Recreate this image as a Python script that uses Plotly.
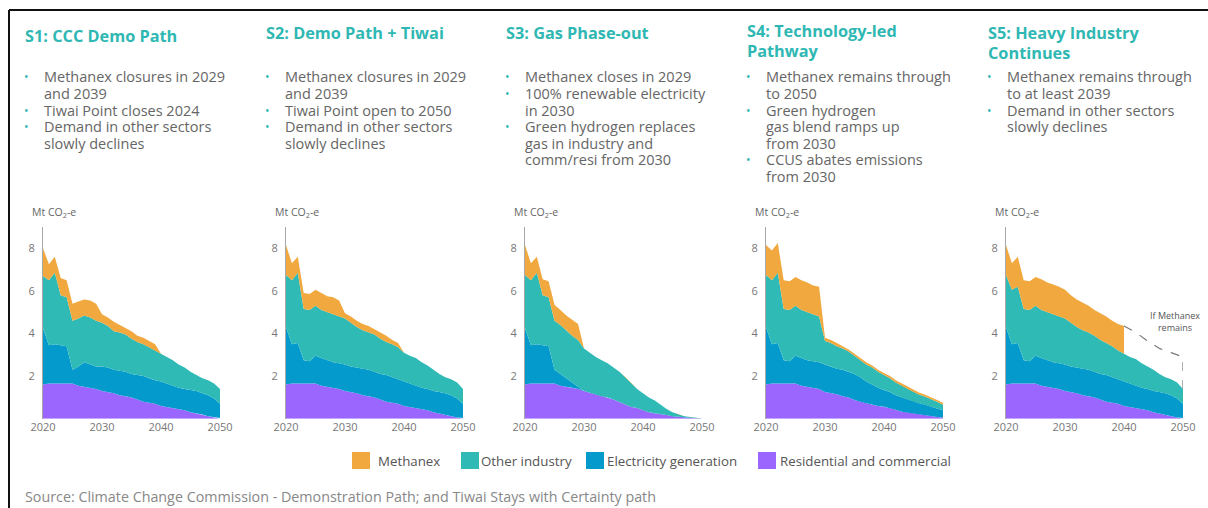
import numpy as np
import plotly.graph_objects as go

# ---------------- data ----------------
YEARS = list(range(2020, 2051))
SERIES = ["Residential and commercial", "Electricity generation", "Other industry", "Methanex"]
LEGEND_ORDER = ["Methanex", "Other industry", "Electricity generation", "Residential and commercial"]
X_TICKS = [2020, 2030, 2040, 2050]
Y_TICKS = [2, 4, 6, 8]

S1_RES = [1.6, 1.65, 1.65, 1.65, 1.65, 1.65, 1.55, 1.5, 1.45, 1.4, 1.3, 1.25, 1.2, 1.1, 1.05, 1.0,
          0.9, 0.8, 0.75, 0.7, 0.6, 0.55, 0.5, 0.45, 0.4, 0.3, 0.25, 0.2, 0.12, 0.06, 0.03]
S1_ELEC = [2.65, 1.8, 1.85, 1.8, 1.75, 0.65, 0.9, 1.15, 1.1, 1.05, 1.15, 1.15, 1.1, 1.15, 1.15, 1.1,
           1.15, 1.2, 1.15, 1.1, 1.15, 1.1, 1.05, 1.0, 1.0, 1.05, 1.05, 1.0, 0.98, 0.89, 0.67]
S1_OTHER = [2.45, 3.05, 3.35, 2.35, 2.3, 2.3, 2.25, 2.2, 2.2, 2.15, 2.05, 1.95, 1.8, 1.8, 1.75, 1.65,
            1.55, 1.5, 1.45, 1.4, 1.3, 1.25, 1.2, 1.1, 1.0, 0.85, 0.75, 0.7, 0.7, 0.7, 0.7]
S1_METH = [1.3, 0.75, 0.75, 0.8, 0.8, 0.8, 0.8, 0.75, 0.8, 0.8, 0.4, 0.4, 0.45, 0.35, 0.3, 0.35,
           0.3, 0.3, 0.3, 0.3, 0, 0, 0, 0, 0, 0, 0, 0, 0, 0, 0]

S2_RES = [1.6, 1.65, 1.65, 1.65, 1.65, 1.65, 1.55, 1.5, 1.45, 1.4, 1.3, 1.25, 1.2, 1.1, 1.05, 1.0,
          0.9, 0.8, 0.75, 0.7, 0.6, 0.55, 0.5, 0.45, 0.4, 0.3, 0.25, 0.2, 0.12, 0.06, 0.03]
S2_ELEC = [2.7, 1.85, 1.9, 1.1, 1.05, 1.3, 1.3, 1.25, 1.2, 1.2, 1.25, 1.2, 1.2, 1.25, 1.25, 1.2,
           1.2, 1.25, 1.2, 1.15, 1.15, 1.1, 1.05, 1.0, 1.0, 1.0, 1.0, 1.0, 0.98, 0.89, 0.67]
S2_OTHER = [2.45, 3.0, 3.3, 2.4, 2.4, 2.35, 2.25, 2.25, 2.25, 2.2, 2.15, 2.05, 1.9, 1.8, 1.75, 1.75,
            1.65, 1.55, 1.55, 1.5, 1.35, 1.3, 1.3, 1.2, 1.1, 1.0, 0.85, 0.75, 0.75, 0.75, 0.7]
S2_METH = [1.4, 0.8, 0.75, 0.75, 0.75, 0.75, 0.8, 0.75, 0.8, 0.75, 0.25, 0.3, 0.3, 0.3, 0.3, 0.25,
           0.3, 0.3, 0.2, 0.2, 0, 0, 0, 0, 0, 0, 0, 0, 0, 0, 0]

S3_RES = [1.6, 1.65, 1.65, 1.65, 1.65, 1.65, 1.55, 1.5, 1.45, 1.4, 1.3, 1.22, 1.15, 1.05, 1.0, 0.9,
          0.78, 0.65, 0.55, 0.5, 0.4, 0.3, 0.25, 0.22, 0.17, 0.12, 0.09, 0.06, 0.04, 0.02, 0.01]
S3_ELEC = [2.65, 1.8, 1.85, 1.8, 1.75, 0.65, 0.55, 0.4, 0.25, 0.1, 0, 0, 0, 0, 0, 0,
           0, 0, 0, 0, 0, 0, 0, 0, 0, 0, 0, 0, 0, 0, 0]
S3_OTHER = [2.5, 3.05, 3.35, 2.35, 2.3, 2.3, 2.3, 2.25, 2.2, 2.2, 2.0, 1.88, 1.75, 1.7, 1.6, 1.5,
            1.42, 1.3, 1.1, 0.9, 0.8, 0.7, 0.6, 0.43, 0.28, 0.18, 0.11, 0.06, 0.04, 0.03, 0.01]
S3_METH = [1.4, 0.8, 0.75, 0.75, 0.75, 0.75, 0.7, 0.7, 0.75, 0.75, 0, 0, 0, 0, 0, 0,
           0, 0, 0, 0, 0, 0, 0, 0, 0, 0, 0, 0, 0, 0, 0]

S4_RES = [1.6, 1.65, 1.65, 1.65, 1.65, 1.65, 1.55, 1.5, 1.45, 1.4, 1.25, 1.2, 1.15, 1.05, 1.0, 0.88,
          0.8, 0.72, 0.65, 0.6, 0.56, 0.5, 0.42, 0.33, 0.3, 0.25, 0.2, 0.16, 0.12, 0.08, 0.06]
S4_ELEC = [2.7, 1.85, 1.9, 1.1, 1.05, 1.3, 1.3, 1.25, 1.25, 1.25, 1.3, 1.25, 1.2, 1.25, 1.2, 1.22,
           1.15, 1.03, 0.95, 0.85, 0.79, 0.75, 0.68, 0.67, 0.6, 0.55, 0.52, 0.49, 0.43, 0.4, 0.34]
S4_OTHER = [2.45, 3.0, 3.3, 2.4, 2.4, 2.35, 2.25, 2.25, 2.2, 2.15, 1.1, 1.1, 1.05, 1.0, 0.95, 0.85,
            0.8, 0.8, 0.8, 0.75, 0.7, 0.65, 0.6, 0.55, 0.5, 0.45, 0.4, 0.38, 0.37, 0.32, 0.25]
S4_METH = [1.4, 1.4, 1.4, 1.35, 1.35, 1.35, 1.4, 1.4, 1.35, 1.4, 0.15, 0.15, 0.15, 0.1, 0.1, 0.1,
           0.1, 0.1, 0.1, 0.1, 0.1, 0.1, 0.1, 0.1, 0.1, 0.1, 0.1, 0.1, 0.1, 0.08, 0.1]

S5_RES = [1.6, 1.65, 1.65, 1.65, 1.65, 1.65, 1.55, 1.5, 1.45, 1.4, 1.3, 1.25, 1.2, 1.1, 1.05, 1.0,
          0.9, 0.8, 0.75, 0.7, 0.6, 0.55, 0.5, 0.45, 0.4, 0.3, 0.25, 0.2, 0.12, 0.06, 0.03]
S5_ELEC = [2.7, 1.85, 1.9, 1.1, 1.05, 1.3, 1.3, 1.25, 1.2, 1.2, 1.25, 1.2, 1.2, 1.25, 1.25, 1.2,
           1.2, 1.25, 1.2, 1.15, 1.15, 1.1, 1.05, 1.0, 1.0, 1.0, 1.0, 1.0, 0.98, 0.89, 0.67]
S5_OTHER = [2.45, 2.55, 2.65, 2.4, 2.4, 2.35, 2.25, 2.25, 2.25, 2.2, 2.15, 2.05, 1.9, 1.8, 1.75, 1.7,
            1.6, 1.5, 1.45, 1.35, 1.3, 1.25, 1.25, 1.15, 1.05, 1.0, 0.85, 0.75, 0.75, 0.75, 0.7]
S5_METH = [1.4, 1.25, 1.4, 1.35, 1.35, 1.35, 1.45, 1.4, 1.4, 1.4, 1.35, 1.3, 1.3, 1.3, 1.25, 1.2,
           1.25, 1.25, 1.2, 1.25, 1.3, 0, 0, 0, 0, 0, 0, 0, 0, 0, 0]
S5_METH_LAST_YEAR = 2040   # Methanex area ends with a vertical cut in S5

# "If Methanex remains" total (S5)
S5_IF_YEARS = [2040, 2042, 2044, 2046, 2048, 2050]
S5_IF_TOTAL = [4.35, 4.05, 3.65, 3.3, 3.1, 2.9]

TITLES = [
    ["S1: CCC Demo Path"],
    ["S2: Demo Path + Tiwai"],
    ["S3: Gas Phase-out"],
    ["S4: Technology-led", "Pathway"],
    ["S5: Heavy Industry", "Continues"],
]
BULLETS = [
    [["Methanex closures in 2029", "and 2039"], ["Tiwai Point closes 2024"],
     ["Demand in other sectors", "slowly declines"]],
    [["Methanex closures in 2029", "and 2039"], ["Tiwai Point open to 2050"],
     ["Demand in other sectors", "slowly declines"]],
    [["Methanex closes in 2029"], ["100% renewable electricity", "in 2030"],
     ["Green hydrogen replaces", "gas in industry and", "comm/resi from 2030"]],
    [["Methanex remains through", "to 2050"], ["Green hydrogen", "gas blend ramps up", "from 2030"],
     ["CCUS abates emissions", "from 2030"]],
    [["Methanex remains through", "to at least 2039"], ["Demand in other sectors", "slowly declines"]],
]
SOURCE = "Source: Climate Change Commission - Demonstration Path; and Tiwai Stays with Certainty path"
Y_UNIT = "Mt CO<sub>2</sub>-e"
IF_LABEL = "If Methanex<br>remains"

SCENARIOS = [
    dict(layers=[S1_RES, S1_ELEC, S1_OTHER, S1_METH], meth_last=None),
    dict(layers=[S2_RES, S2_ELEC, S2_OTHER, S2_METH], meth_last=None),
    dict(layers=[S3_RES, S3_ELEC, S3_OTHER, S3_METH], meth_last=None),
    dict(layers=[S4_RES, S4_ELEC, S4_OTHER, S4_METH], meth_last=None),
    dict(layers=[S5_RES, S5_ELEC, S5_OTHER, S5_METH], meth_last=S5_METH_LAST_YEAR),
]

# ---------------- style ----------------
COLORS = {
    "Methanex": "#f0a83f",
    "Other industry": "#2fbab5",
    "Electricity generation": "#049bcc",
    "Residential and commercial": "#9b66fd",
}
TEAL_TEXT = "#2fb8b3"
FONT = "Open Sans"
W, H = 1208, 508
PANEL_LEFT = [43, 286, 525, 766, 1006]
PANEL_W = 177
Y_TOP_PX, Y_BOT_PX = 227, 418.7
TITLE_X = [24, 265, 505, 746, 987]
TITLE_Y = [36, 33, 33, 31, 33]


def px(xp):
    return xp / W


def py(yp):
    return 1 - yp / H


fig = go.Figure()
layout = {}
annotations = []
shapes = []

for i, sc in enumerate(SCENARIOS):
    k = "" if i == 0 else str(i + 1)
    xa, ya = "x" + k, "y" + k
    base = np.zeros(len(YEARS))
    for name, vals in zip(SERIES, sc["layers"]):
        v = np.array(vals, dtype=float)
        top = base + v
        n = len(YEARS)
        if name == "Methanex" and sc["meth_last"] is not None:
            n = YEARS.index(sc["meth_last"]) + 1
        xs = YEARS[:n] + YEARS[:n][::-1]
        ys = list(top[:n]) + list(base[:n][::-1])
        fig.add_trace(go.Scatter(
            x=xs, y=ys, fill="toself", fillcolor=COLORS[name], mode="lines",
            line=dict(width=0, color=COLORS[name]), name=name, showlegend=False,
            hoverinfo="skip", xaxis=xa, yaxis=ya))
        base = top
    if i == 4:
        # dashed "If Methanex remains" outline
        dx = S5_IF_YEARS + [S5_IF_YEARS[-1]]
        dy = S5_IF_TOTAL + [float(np.sum([np.array(l)[-1] for l in sc["layers"][:3]]))]
        fig.add_trace(go.Scatter(
            x=dx, y=dy, mode="lines", line=dict(color="#7a7a7a", width=1.2, dash="dash"),
            showlegend=False, hoverinfo="skip", xaxis=xa, yaxis=ya))
        annotations.append(dict(
            x=px(1175), y=py(321), xref="paper", yref="paper", text=IF_LABEL,
            showarrow=False, xanchor="center", yanchor="middle", align="center",
            font=dict(family=FONT, size=9, color="#555")))

    tickfont = dict(family=FONT, size=11, color="#777")
    layout["xaxis" + k] = dict(
        domain=[px(PANEL_LEFT[i]), px(PANEL_LEFT[i] + PANEL_W)], range=[2020, 2050],
        tickvals=X_TICKS, showgrid=False, zeroline=False, showline=False,
        ticks="", automargin=False,
        anchor=ya, tickfont=tickfont, fixedrange=True)
    layout["yaxis" + k] = dict(
        domain=[py(Y_BOT_PX), py(Y_TOP_PX)], range=[0, 9], tickvals=Y_TICKS,
        showgrid=False, zeroline=False, showline=True, linecolor="#a8a8a8", linewidth=1,
        ticks="outside", ticklen=5, tickcolor="rgba(0,0,0,0)", automargin=False,
        anchor=xa, tickfont=tickfont, fixedrange=True)

    # unit label
    annotations.append(dict(
        x=px(PANEL_LEFT[i] - 13), y=py(213), xref="paper", yref="paper", text=Y_UNIT,
        showarrow=False, xanchor="left", yanchor="middle",
        font=dict(family=FONT, size=10.5, color="#666")))

    # titles
    for j, line in enumerate(TITLES[i]):
        annotations.append(dict(
            x=px(TITLE_X[i] - 1), y=py(TITLE_Y[i] + 19.5 * j), xref="paper", yref="paper",
            text="<b>" + line + "</b>", showarrow=False, xanchor="left", yanchor="middle",
            font=dict(family=FONT, size=16.3, color=TEAL_TEXT)))

    # bullets
    yline = 77
    for item in BULLETS[i]:
        annotations.append(dict(
            x=px(TITLE_X[i] - 2), y=py(yline), xref="paper", yref="paper", text="•",
            showarrow=False, xanchor="left", yanchor="middle",
            font=dict(family=FONT, size=12, color=TEAL_TEXT)))
        for line in item:
            annotations.append(dict(
                x=px(TITLE_X[i] + 18), y=py(yline), xref="paper", yref="paper", text=line,
                showarrow=False, xanchor="left", yanchor="middle",
                font=dict(family=FONT, size=14.5, color="#666")))
            yline += 16.6

# legend (manual)
LEG_BOX_X = [352, 461, 586, 758]
LEG_TEXT_X = [378, 481, 607, 780]
for name, bx, tx in zip(LEGEND_ORDER, LEG_BOX_X, LEG_TEXT_X):
    shapes.append(dict(type="rect", xref="paper", yref="paper",
                       x0=px(bx), x1=px(bx + 18), y0=py(469), y1=py(452),
                       fillcolor=COLORS[name], line=dict(width=0)))
    annotations.append(dict(
        x=px(tx - 2), y=py(461), xref="paper", yref="paper", text=name, showarrow=False,
        xanchor="left", yanchor="middle", font=dict(family=FONT, size=13.3, color="#555")))

annotations.append(dict(
    x=px(23), y=py(496), xref="paper", yref="paper", text=SOURCE, showarrow=False,
    xanchor="left", yanchor="middle", font=dict(family=FONT, size=14.3, color="#888")))

# frame (top and left edges)
shapes.append(dict(type="line", xref="paper", yref="paper", x0=px(9), x1=px(1220),
                   y0=py(10), y1=py(10), line=dict(color="#111", width=2)))
shapes.append(dict(type="line", xref="paper", yref="paper", x0=px(9), x1=px(9),
                   y0=py(10), y1=py(520), line=dict(color="#111", width=2)))

fig.update_layout(
    width=W, height=H, autosize=False,
    margin=dict(l=0, r=0, t=0, b=0, pad=0, autoexpand=False),
    paper_bgcolor="white", plot_bgcolor="white",
    annotations=annotations, shapes=shapes, showlegend=False,
    font=dict(family=FONT), **layout)

# the figure is the full window: drop the page's default body margin
fig.write_html(
    "out.html",
    config={"displayModeBar": False, "responsive": False},
    post_script="document.body.style.margin='0px';document.body.style.overflow='hidden';",
)
